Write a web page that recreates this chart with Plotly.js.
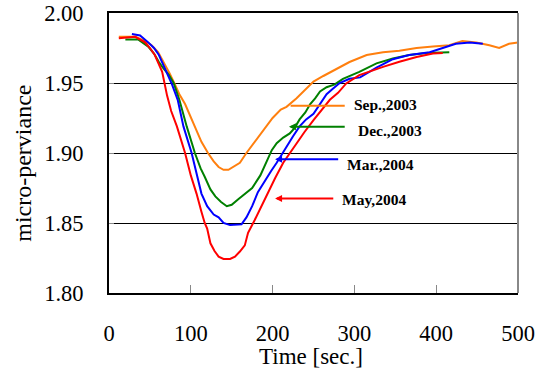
<!DOCTYPE html>
<html><head><meta charset="utf-8">
<script src="https://cdn.plot.ly/plotly-3.0.1.min.js"></script>
<style>html,body{margin:0;padding:0;background:#fff;}#c{width:542px;height:370px;}</style>
</head><body><div id="c"></div>
<script>
var sepX = [12,32,44,52,60,67,74,79,86,93,99,105,113,121,128,134,140,146,152,160,168,178,188,200,210,217,229,240,250,262,278,294,315,335,355,376,396,416,432,449,465,477,489,500];
var sepY = [1.983,1.983,1.980,1.977,1.972,1.965,1.957,1.951,1.942,1.935,1.927,1.919,1.908,1.900,1.894,1.890,1.888,1.888,1.890,1.893,1.900,1.908,1.916,1.925,1.931,1.933,1.939,1.945,1.951,1.955,1.960,1.965,1.970,1.972,1.973,1.975,1.976,1.977,1.980,1.979,1.977,1.975,1.978,1.979];
var decX = [20,36,48,55,61,67,73,79,86,95,105,112,117,124,130,137,144,150,158,166,175,185,193,199,205,213,221,227,233,240,246,252,258,266,276,286,306,327,347,367,388,416];
var decY = [1.981,1.981,1.976,1.971,1.965,1.960,1.956,1.950,1.938,1.919,1.900,1.889,1.883,1.874,1.869,1.865,1.862,1.863,1.867,1.871,1.875,1.884,1.894,1.902,1.907,1.911,1.914,1.918,1.924,1.929,1.935,1.939,1.944,1.947,1.949,1.953,1.958,1.964,1.9675,1.970,1.9715,1.972];
var marX = [28,38,48,55,61,69,77,84,91,101,107,113,120,128,134,140,148,156,162,168,175,182,190,198,205,211,217,225,233,241,250,258,266,274,282,294,307,327,347,367,392,408,424,441,457];
var marY = [1.985,1.984,1.979,1.975,1.970,1.960,1.949,1.938,1.919,1.900,1.885,1.871,1.862,1.856,1.854,1.850,1.8485,1.8485,1.849,1.854,1.862,1.872,1.880,1.887,1.893,1.899,1.905,1.912,1.919,1.924,1.928,1.935,1.942,1.946,1.950,1.953,1.954,1.961,1.967,1.970,1.972,1.975,1.978,1.979,1.978];
var mayX = [12,32,44,50,56,61,65,71,76,83,88,93,100,107,113,117,120,124,129,134,140,148,154,160,166,170,178,186,194,203,213,221,229,239,250,260,270,280,290,306,323,335,355,376,396,408];
var mayY = [1.982,1.983,1.979,1.975,1.970,1.964,1.958,1.941,1.930,1.919,1.909,1.900,1.884,1.871,1.858,1.850,1.846,1.8355,1.830,1.826,1.8243,1.8243,1.826,1.8296,1.834,1.843,1.852,1.862,1.871,1.882,1.893,1.900,1.907,1.915,1.9235,1.931,1.938,1.943,1.9497,1.9556,1.9592,1.9615,1.9652,1.9686,1.971,1.9715];
var seriesNames = ['Sep.,2003','Dec.,2003','Mar.,2004','May,2004'];
var xTicks = [0,100,200,300,400,500];
var yTicks = [1.80,1.85,1.90,1.95,2.00];
var xTitle = 'Time [sec.]';
var yTitle = 'micro-perviance';

var FONT = 'Liberation Serif, serif';
var colors = ['#ff7f0e','#008000','#0000ff','#ff0000'];
var xs = [sepX,decX,marX,mayX], ys = [sepY,decY,marY,mayY];
var traces = xs.map(function(x,i){return {x:x,y:ys[i],mode:'lines',name:seriesNames[i],line:{color:colors[i],width:2},showlegend:false,hoverinfo:'skip'};});

// label positions (data coordinates)
var arrowTail = [[290,1.9337],[290,1.9187],[282,1.8955],[276,1.8675]];
var arrowHead = [[222,1.9337],[220,1.9187],[203,1.8955],[203,1.8675]];
var textPos = [[297,1.9350],[302,1.9160],[288,1.8918],[282,1.8668]];
var ann = [];
for (var i=0;i<4;i++){
  ann.push({x:arrowHead[i][0],y:arrowHead[i][1],ax:arrowTail[i][0],ay:arrowTail[i][1],axref:'x',ayref:'y',xref:'x',yref:'y',
    text:'',showarrow:true,arrowhead:i===0?0:2,arrowsize:0.7,arrowwidth:2,arrowcolor:colors[i],standoff:0,startstandoff:0});
  ann.push({x:textPos[i][0],y:textPos[i][1],xref:'x',yref:'y',text:'<b>'+seriesNames[i]+'</b>',showarrow:false,xanchor:'left',yanchor:'middle',
    font:{family:FONT,size:15.5,color:'#000'}});
}
ann.push({xref:'paper',yref:'paper',x:0.493,y:-0.226,xanchor:'center',yanchor:'middle',showarrow:false,text:xTitle,font:{family:FONT,size:23,color:'#000'}});
ann.push({xref:'paper',yref:'paper',x:-0.211,y:0.464,xanchor:'center',yanchor:'middle',showarrow:false,textangle:-90,text:yTitle,font:{family:FONT,size:24,color:'#000'}});

var layout = {
  width:542,height:370,
  margin:{l:109,r:24,t:13,b:77},
  paper_bgcolor:'#fff',plot_bgcolor:'#fff',
  font:{family:FONT,size:22,color:'#000'},
  xaxis:{range:[0,500],tickvals:xTicks,ticktext:xTicks.map(String),ticks:'inside',ticklen:8,tickcolor:'#888',tickwidth:1,
    showgrid:false,zeroline:false,showline:true,linecolor:'#000',linewidth:2,mirror:true,
    ticklabelstandoff:19,tickfont:{family:FONT,size:22.5}},
  yaxis:{range:[1.80,2.00],tickvals:yTicks,ticktext:yTicks.map(function(v){return v.toFixed(2);}),ticks:'inside',ticklen:5,tickcolor:'#888',
    showgrid:true,gridcolor:'#000',gridwidth:1,zeroline:false,showline:true,linecolor:'#000',linewidth:2,
    ticklabelstandoff:19,tickfont:{family:FONT,size:22.5}},
  shapes:[{type:'line',xref:'paper',yref:'paper',x0:1,x1:1,y0:0,y1:1,line:{color:'#888',width:2}}],
  annotations:ann
};
Plotly.newPlot('c',traces,layout,{staticPlot:true,displayModeBar:false});
</script></body></html>
